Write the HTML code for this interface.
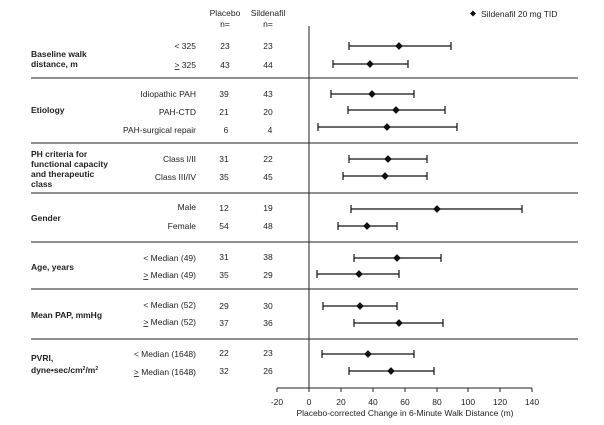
<!DOCTYPE html><html><head><meta charset="utf-8"><style>body{margin:0;background:#fff}svg{display:block}text{font-family:"Liberation Sans",Arial,sans-serif;fill:#222}</style></head><body>
<svg width="604" height="425" viewBox="0 0 604 425" xmlns="http://www.w3.org/2000/svg">
<g font-size="8.5" text-anchor="middle">
<text x="225" y="16">Placebo</text><text x="225" y="27">n=</text>
<text x="268" y="16">Sildenafil</text><text x="268" y="27">n=</text>
</g>
<path d="M473 10.5l3 3-3 3-3-3z" fill="#111"/>
<text x="481" y="17" font-size="8.5">Sildenafil 20 mg TID</text>
<g stroke="#222" stroke-width="1">
<line x1="31" y1="78" x2="578" y2="78"/><line x1="31" y1="143" x2="578" y2="143"/><line x1="31" y1="193" x2="578" y2="193"/><line x1="31" y1="242" x2="578" y2="242"/><line x1="31" y1="289" x2="578" y2="289"/><line x1="31" y1="339" x2="578" y2="339"/>
<line x1="309" y1="26" x2="309" y2="392"/>
<line x1="277" y1="388" x2="532" y2="388"/>
<path d="M277 388v4M309 388v4M341 388v4M373 388v4M405 388v4M437 388v4M468 388v4M500 388v4M532 388v4"/>
</g>
<g font-size="8.5" text-anchor="middle">
<text x="277" y="405">-20</text><text x="309" y="405">0</text><text x="341" y="405">20</text><text x="373" y="405">40</text><text x="405" y="405">60</text><text x="437" y="405">80</text><text x="468" y="405">100</text><text x="500" y="405">120</text><text x="532" y="405">140</text>
<text x="405" y="416">Placebo-corrected Change in 6-Minute Walk Distance (m)</text>
</g>
<g font-size="8.5" font-weight="bold">
<text x="31" y="57">Baseline walk</text><text x="31" y="67">distance, m</text>
<text x="31" y="113">Etiology</text>
<text x="31" y="157">PH criteria for</text><text x="31" y="167">functional capacity</text><text x="31" y="177">and therapeutic</text><text x="31" y="187">class</text>
<text x="31" y="221">Gender</text>
<text x="31" y="270">Age, years</text>
<text x="31" y="318">Mean PAP, mmHg</text>
<text x="31" y="361">PVRI,</text><text x="31" y="373">dyne•sec/cm<tspan font-size="5" dy="-3">2</tspan><tspan dy="3">/m</tspan><tspan font-size="5" dy="-3">2</tspan></text>
</g>
<g font-size="8.5">
<g text-anchor="end">
<text x="196" y="49">&lt; 325</text><text x="196" y="68"><tspan text-decoration="underline">&gt;</tspan> 325</text>
<text x="196" y="97">Idiopathic PAH</text><text x="196" y="115">PAH-CTD</text><text x="196" y="133">PAH-surgical repair</text>
<text x="196" y="162">Class I/II</text><text x="196" y="180">Class III/IV</text>
<text x="196" y="210">Male</text><text x="196" y="229">Female</text>
<text x="196" y="261">&lt; Median (49)</text><text x="196" y="278"><tspan text-decoration="underline">&gt;</tspan> Median (49)</text>
<text x="196" y="308">&lt; Median (52)</text><text x="196" y="325"><tspan text-decoration="underline">&gt;</tspan> Median (52)</text>
<text x="196" y="357">&lt; Median (1648)</text><text x="196" y="375"><tspan text-decoration="underline">&gt;</tspan> Median (1648)</text>
</g>
<g text-anchor="middle">
<text x="225" y="49">23</text><text x="268" y="49">23</text>
<text x="225" y="68">43</text><text x="268" y="68">44</text>
<text x="224" y="97">39</text><text x="268" y="97">43</text>
<text x="224" y="115">21</text><text x="268" y="115">20</text>
<text x="226" y="133">6</text><text x="270" y="133">4</text>
<text x="224" y="162">31</text><text x="268" y="162">22</text>
<text x="224" y="180">35</text><text x="268" y="180">45</text>
<text x="224" y="211">12</text><text x="268" y="211">19</text>
<text x="224" y="229">54</text><text x="268" y="229">48</text>
<text x="224" y="260">31</text><text x="268" y="260">38</text>
<text x="224" y="278">35</text><text x="268" y="278">29</text>
<text x="224" y="309">29</text><text x="268" y="309">30</text>
<text x="224" y="326">37</text><text x="268" y="326">36</text>
<text x="224" y="356">22</text><text x="268" y="356">23</text>
<text x="224" y="374">32</text><text x="268" y="374">26</text>
</g></g>
<g stroke="#111" stroke-width="1.2" fill="#111">
<path d="M349 46h102M349 42v8M451 42v8"/><path d="M399 43l3 3-3 3-3-3z"/>
<path d="M333 64h75M333 60v8M408 60v8"/><path d="M370 61l3 3-3 3-3-3z"/>
<path d="M331 94h83M331 90v8M414 90v8"/><path d="M372 91l3 3-3 3-3-3z"/>
<path d="M348 110h97M348 106v8M445 106v8"/><path d="M396 107l3 3-3 3-3-3z"/>
<path d="M318 127h139M318 123v8M457 123v8"/><path d="M387 124l3 3-3 3-3-3z"/>
<path d="M349 159h78M349 155v8M427 155v8"/><path d="M388 156l3 3-3 3-3-3z"/>
<path d="M343 176h84M343 172v8M427 172v8"/><path d="M385 173l3 3-3 3-3-3z"/>
<path d="M351 209h171M351 205v8M522 205v8"/><path d="M437 206l3 3-3 3-3-3z"/>
<path d="M338 226h59M338 222v8M397 222v8"/><path d="M367 223l3 3-3 3-3-3z"/>
<path d="M354 258h87M354 254v8M441 254v8"/><path d="M397 255l3 3-3 3-3-3z"/>
<path d="M317 274h82M317 270v8M399 270v8"/><path d="M359 271l3 3-3 3-3-3z"/>
<path d="M323 306h74M323 302v8M397 302v8"/><path d="M360 303l3 3-3 3-3-3z"/>
<path d="M354 323h89M354 319v8M443 319v8"/><path d="M399 320l3 3-3 3-3-3z"/>
<path d="M322 354h92M322 350v8M414 350v8"/><path d="M368 351l3 3-3 3-3-3z"/>
<path d="M349 371h85M349 367v8M434 367v8"/><path d="M391 368l3 3-3 3-3-3z"/>
</g>
</svg></body></html>
